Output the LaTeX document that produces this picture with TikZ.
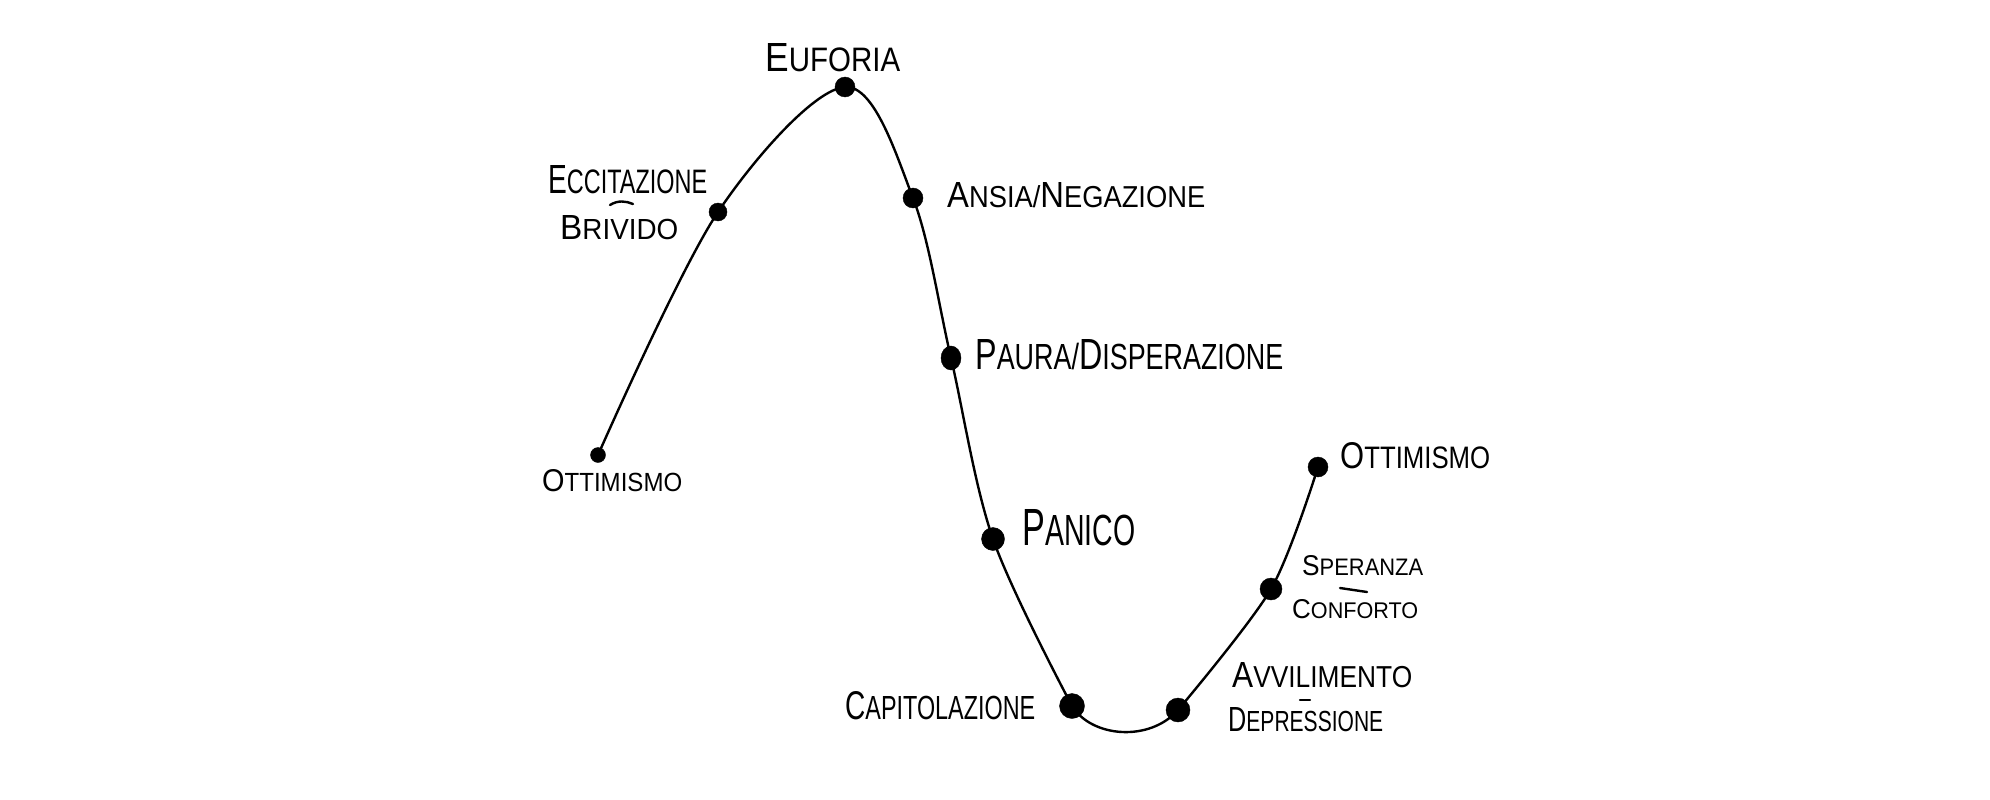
\documentclass[tikz,border=0pt]{standalone}
\usepackage{fontspec}
\usepackage{graphicx}
\usetikzlibrary{shapes.geometric}
\setmainfont{Liberation Sans}
\newcommand{\fl}[1]{\scalebox{1.2}{#1}}
\newcommand{\hw}[3]{\resizebox{#1bp}{#2bp}{#3}}
\tikzset{
  curve/.style={line width=2.4bp, black, line cap=round},
  dot/.style={circle, fill=black, draw=black, inner sep=0pt},
  lbl/.style={anchor=west, inner sep=0pt, text=black},
  dashmark/.style={line width=2.4bp, black, line cap=round}
}
\begin{document}
\begin{tikzpicture}[x=1bp,y=-1bp]
\useasboundingbox (0,0) rectangle (1990,800);
\fill[white] (0,0) rectangle (1990,800);
% curve points
\coordinate (o1) at (598,455);
\coordinate (ecc) at (718,212);
\coordinate (euf) at (845,87);
\coordinate (ans) at (913,198);
\coordinate (pau) at (951,358);
\coordinate (pan) at (993,539);
\coordinate (cap) at (1072,706);
\coordinate (avv) at (1178,710);
\coordinate (spe) at (1271,589);
\coordinate (o2) at (1318,467);
\draw[curve] plot[smooth, tension=0.55] coordinates {(o1) (ecc) (euf) (ans) (pau) (pan) (cap)};
\draw[curve] (cap) .. controls (1092,738) and (1150,742) .. (avv);
\draw[curve] plot[smooth, tension=0.5] coordinates {(avv) (spe) (o2)};
% dots
\node[dot, minimum size=15bp] (o1d) at (o1) {};
\node[dot, minimum size=18bp] (eccd) at (ecc) {};
\node[dot, minimum size=20bp] (eufd) at (euf) {};
\node[dot, minimum size=20bp] (ansd) at (ans) {};
\node[dot, ellipse, minimum width=20bp, minimum height=24bp] (paud) at (pau) {};
\node[dot, minimum size=23bp] (pand) at (pan) {};
\node[dot, minimum size=25bp] (capd) at (cap) {};
\node[dot, minimum size=24bp] (avvd) at (avv) {};
\node[dot, minimum size=22bp] (sped) at (spe) {};
\node[dot, minimum size=20bp] (o2d) at (o2) {};
% labels
\node[lbl] (leuf) at (765,58) {\hw{135}{28}{\fl{E}UFORIA}};
\node[lbl] (lecc) at (548,180) {\hw{159}{28}{\fl{E}CCITAZIONE}};
\node[lbl] (lbri) at (560,228) {\hw{118}{24}{\fl{B}RIVIDO}};
\node[lbl] (lans) at (947,195) {\hw{258}{25}{\fl{A}NSIA/\fl{N}EGAZIONE}};
\node[lbl] (lpau) at (975,355) {\hw{308}{30}{\fl{P}AURA/\fl{D}ISPERAZIONE}};
\node[lbl] (lpan) at (1022,528) {\hw{113}{36}{\fl{P}ANICO}};
\node[lbl] (lo1) at (542,481) {\hw{140}{22}{\fl{O}TTIMISMO}};
\node[lbl] (lo2) at (1340,456) {\hw{150}{26}{\fl{O}TTIMISMO}};
\node[lbl] (lspe) at (1302,566) {\hw{121}{20}{\fl{S}PERANZA}};
\node[lbl] (lcon) at (1292,609) {\hw{126}{19}{\fl{C}ONFORTO}};
\node[lbl] (lavv) at (1232,675) {\hw{180}{25}{\fl{A}VVILIMENTO}};
\node[lbl] (ldep) at (1228,720) {\hw{155}{24}{\fl{D}EPRESSIONE}};
\node[lbl] (lcap) at (845,706) {\hw{190}{28}{\fl{C}APITOLAZIONE}};
% small dashes between label lines
\draw[dashmark] (610,205) .. controls (618,200) and (626,201) .. (633,204);
\draw[dashmark] (1340,588) -- (1367,592);
\draw[dashmark] (1300,700) -- (1310,700);
\end{tikzpicture}
\end{document}
